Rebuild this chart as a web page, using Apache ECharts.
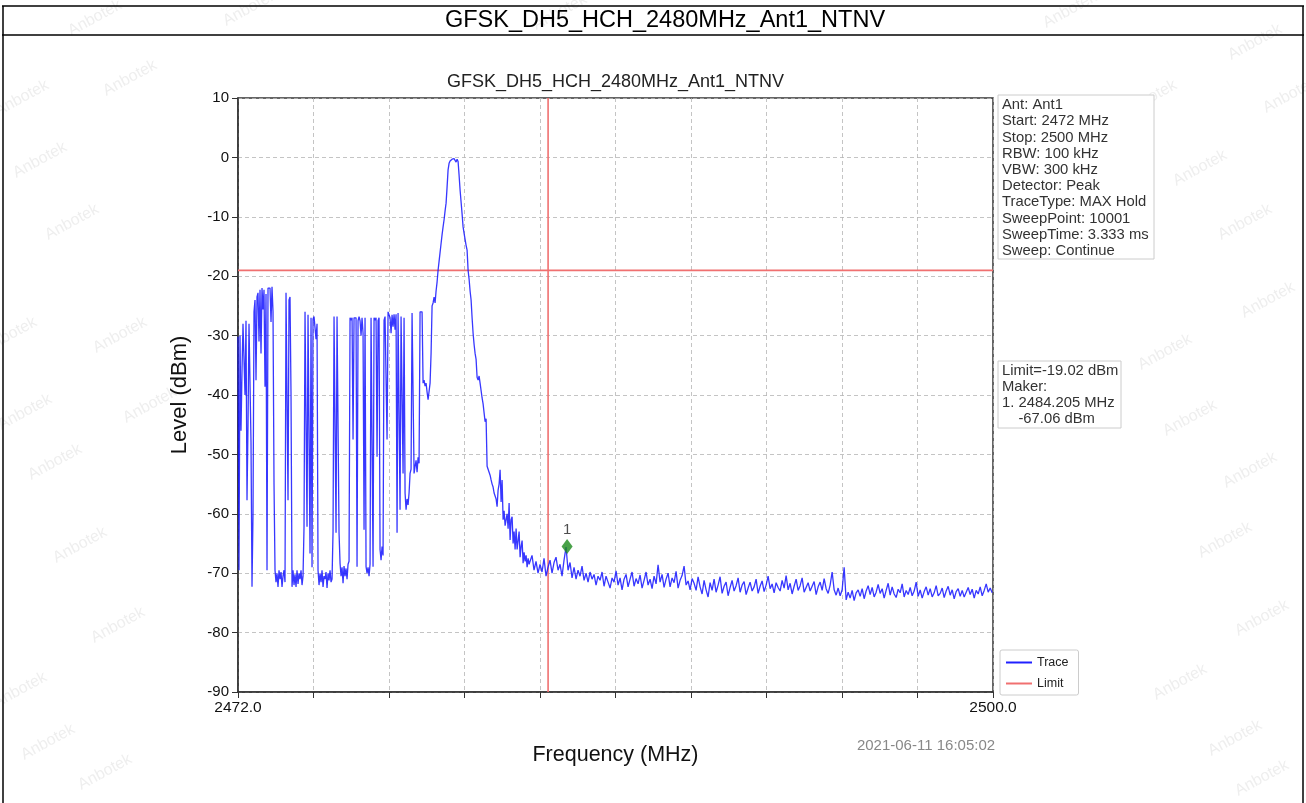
<!DOCTYPE html>
<html><head><meta charset="utf-8">
<script src="https://cdn.jsdelivr.net/npm/echarts@6/dist/echarts.min.js"></script>
<style>html,body{margin:0;padding:0;background:#fff}#c{width:1306px;height:803px}</style>
</head><body><div id="c"></div>
<script>
// ---------------- data ----------------
const pageTitle = 'GFSK_DH5_HCH_2480MHz_Ant1_NTNV';
const chartTitle = 'GFSK_DH5_HCH_2480MHz_Ant1_NTNV';
const freqMinMHz = 2472.0;
const freqMaxMHz = 2500.0;
const freqSpanMHz = 28;
const freqTickStepMHz = 2.8;
const xTickLabels = ['2472.0', '', '', '', '', '', '', '', '', '', '2500.0'];
const levelMin = -90;
const levelMax = 10;
const levelStep = 10;
const limitDbm = -19.02;
const bandEdgeMHz = 2483.5;
const markerFreqMHz = 2484.205;
const markerLevelDbm = -65.5;
const markerLabel = '1';
const infoLines = ['Ant: Ant1', 'Start: 2472 MHz', 'Stop: 2500 MHz', 'RBW: 100 kHz', 'VBW: 300 kHz',
  'Detector: Peak', 'TraceType: MAX Hold', 'SweepPoint: 10001', 'SweepTime: 3.333 ms', 'Sweep: Continue'];
const limitInfoLines = ['Limit=-19.02 dBm', 'Maker:', '1. 2484.205 MHz', '    -67.06 dBm'];
const timestamp = '2021-06-11 16:05:02';

// trace, segment A (fine sweep points, 2472.0 .. 2482.8 MHz)
const segAStartMHz = 2472.0;
const segAStepMHz = 0.0371;
const segALevels = [
  -30.2,-69.5,-30,-46,-36,-28,-27.7,-40,-27.5,-57.7,
  -45,-28,-27.7,-48,-72.3,-60,-26,-24,-37.5,-23.5,
  -22.8,-31,-22.3,-33,-22,-25.6,-22.3,-38.6,-23,-69.5,
  -22,-21.8,-22,-27.7,-21.8,-26,-55,-69.5,-71.5,-70,
  -72.3,-69.5,-71,-69.8,-72.3,-70.5,-69.5,-71.5,-22.8,-23,
  -57.7,-24,-23.5,-40,-72.3,-69.5,-72,-70.2,-72.3,-69.5,
  -71.8,-70,-71,-69.5,-72,-70.5,-62.2,-26,-26.2,-62.2,
  -26.5,-26.8,-66.7,-27,-69,-27.2,-26.8,-27,-30.6,-28,
  -69.5,-72,-70,-71.5,-69.5,-72.3,-70.5,-71,-69.8,-72.5,
  -70,-71.2,-69.5,-71.5,-71,-63,-26.8,-27,-63.2,-26.8,
  -27,-63.2,-68.3,-70.5,-69,-71.7,-68.8,-70.5,-69.2,-71,
  -68.5,-68,-27,-27.4,-27,-47.5,-27,-26.8,-27,-68.9,
  -27.5,-26.8,-27.5,-30,-27,-29.6,-62.7,-27,-68.9,-70,
  -69,-70.5,-68.5,-27,-26.8,-68.9,-27,-27.4,-27,-50.4,
  -27.5,-27,-66,-67.8,-65.5,-67,-27.4,-26.8,-27,-47.5,
  -26,-25.8,-27,-29.6,-26.5,-28.5,-26.4,-29,-26.4,-63.2,
  -26.2,-26.4,-59.3,-26.8,-26.6,-53.2,-27,-56.5,-59.3,-57.5,
  -58.5,-56.5,-53.2,-52.5,-26.2,-26,-53.2,-52,-51,-53,
  -50.5,-51.5,-26,-25.7,-26,-38,-37.5,-38.5,-38,-39.5,
  -40.8,-41,-38,-33,-25,-24.5,-23.5,-24.5,-22.5,-21,
  -19,-17.5,-16,-14.5,-13,-11.7,-10.5,-9,-7.7,-5,
  -2.1,-1,-0.6,-0.4,-0.3,-0.6,-0.2,-0.3,-0.8,-0.3,
  -0.7,-3,-5.5,-7.5,-9.5,-11.7,-12.8,-13.8,-14.8,-15.6,
  -19,-20.5,-22.5,-24,-27,-29.6,-31.5,-33,-34,-37,
  -37.5,-36.8,-38,-37.7,-40.5,-41.5,-43,-44.5,-44,-52,
  -52.3,-53,-53.5,-54.3,-55,-55.5,-56.5,-57,-57.5,-58.8,
  -56,-55,-52.6,-58,-54.3,-61,-59.5,-62,-62.2,-60,
  -62.5,-58.2,-64.4,-61,-60.5,-65,-63,-66,-62.5,-66,
  -64.5,-63,-67.3,-65.5,-64.5,-68.3,-66.5,-68,-67,-69,
  -67.5,-68.5
];
// trace, segment B (2482.83 .. 2500 MHz)
const segBStartMHz = 2482.83;
const segBStepMHz = 0.0742;
const segBLevels = [
  -68.5,-67,-69.5,-68,-70, -68.5,-69.8,-67.5,-70.5,-69,
  -67.8,-70,-68.2,-67.3,-69.5, -68.5,-70.5,-67.8,-65.6,-69.5,
  -68.2,-70.8,-69,-71,-69.5, -70.5,-68.8,-71.2,-70,-71.5,
  -69.8,-71,-70.2,-72,-70.5, -71.2,-69.8,-72.2,-70.5,-71.5,
  -72.5,-70.8,-71.5,-69.6,-72, -70.8,-72.8,-71,-70.2,-72.3,
  -71,-69.8,-72.2,-70.9,-71.8, -70.3,-72.5,-71.2,-69.8,-72,
  -71,-72.6,-70.5,-71.8,-68.6, -71.5,-70.2,-72.4,-71,-70,
  -72.3,-70.8,-71.6,-69.7,-72.5, -71.2,-70.4,-68.8,-72,-71.3,
  -72.8,-70.9,-71.7,-72.9,-70.6, -72.3,-73.5,-71.2,-72.8,-74,
  -71.6,-72.9,-71,-73.2,-72, -70.6,-73.4,-72.2,-71.5,-73.8,
  -72.4,-71.2,-73,-72.1,-70.8, -73.2,-72,-71.4,-73.6,-72.5,
  -71.5,-73,-72.3,-71,-73.4, -72.2,-71.3,-73.1,-72,-70.5,
  -72.6,-71.8,-73.3,-71.6,-72.4, -73,-71.2,-72.5,-70.4,-72.8,
  -71.7,-73.5,-72.2,-71,-72.9, -72.1,-70.8,-73.2,-72.4,-71.6,
  -73,-72.2,-71.4,-73.6,-72.3, -71.5,-72.9,-70.9,-72.6,-73.4,
  -72,-69.8,-72.8,-73.7,-72.5, -73.8,-72.8,-69,-74.5,-73.2,
  -74.2,-72.9,-74.6,-73.3,-72.8, -73.9,-72.6,-74.3,-73,-72.1,
  -73.6,-72.4,-74,-73.2,-71.9, -73.4,-72.6,-74.2,-72.9,-71.7,
  -73.7,-72.3,-73.5,-74.1,-72.7, -73.3,-71.8,-74,-72.9,-73.6,
  -72.4,-73.8,-73,-71.5,-73.9, -72.8,-74.2,-73.1,-72.3,-73.7,
  -72.6,-74,-73.3,-72.1,-73.8, -73.4,-72.5,-74.1,-73,-72.2,
  -73.7,-72.8,-74.3,-73.1,-72.6, -73.9,-72.9,-74,-73.2,-72.4,
  -73.6,-72.7,-74.2,-72.9,-73.5, -72.3,-73.8,-72.9,-71.8,-73.2,
  -72.5,-73.3
];

// ---------------- build ----------------
const trace = segALevels.map((v, i) => [segAStartMHz + i * segAStepMHz, v])
  .concat(segBLevels.map((v, i) => [segBStartMHz + i * segBStepMHz, v]));

const FONT = '"Liberation Sans", Arial, Helvetica, sans-serif';
const chart = echarts.init(document.getElementById('c'), null, {renderer: 'canvas'});

const watermarkPos = [[95,18],[250,8],[560,12],[1070,10],[1255,42],[22,98],[130,78],[40,160],[72,222],
  [1150,98],[1200,168],[1245,222],[1268,300],[1165,352],[10,335],[120,335],[25,412],[150,405],[55,462],
  [1190,418],[1250,470],[1225,540],[80,545],[118,625],[1262,618],[1180,682],[20,690],[48,742],[105,772],
  [1235,738],[1262,778],[1290,95]];
const graphics = [];
watermarkPos.forEach(p => graphics.push({type: 'text', x: p[0], y: p[1], rotation: 0.5, z: 0, silent: true,
  style: {text: 'Anbotek', fill: 'rgba(150,150,150,0.16)', font: '16px ' + FONT, textAlign: 'center', textVerticalAlign: 'middle'}}));
// outer table frame
graphics.push({type: 'line', shape: {x1: 2, y1: 6, x2: 1304, y2: 6}, style: {stroke: '#000', lineWidth: 1.5}});
graphics.push({type: 'line', shape: {x1: 2, y1: 35, x2: 1304, y2: 35}, style: {stroke: '#000', lineWidth: 1.5}});
graphics.push({type: 'line', shape: {x1: 3, y1: 6, x2: 3, y2: 803}, style: {stroke: '#000', lineWidth: 1.5}});
graphics.push({type: 'line', shape: {x1: 1303, y1: 6, x2: 1303, y2: 803}, style: {stroke: '#000', lineWidth: 1.5}});
graphics.push({type: 'text', x: 665, y: 21, style: {text: pageTitle, fill: '#000', font: '23.5px ' + FONT, textAlign: 'center', textVerticalAlign: 'middle'}});
graphics.push({type: 'text', x: 615.5, y: 82, style: {text: chartTitle, fill: '#222', font: '18px ' + FONT, textAlign: 'center', textVerticalAlign: 'middle'}});
// info box
graphics.push({type: 'rect', shape: {x: 998, y: 95, width: 156, height: 164}, style: {fill: '#fff', stroke: '#ccc', lineWidth: 1}, z: 5});
graphics.push({type: 'text', x: 1002, y: 97, z: 6, style: {text: infoLines.join('\n'), fill: '#333', font: '14.8px ' + FONT, lineHeight: 16.2, textVerticalAlign: 'top'}});
graphics.push({type: 'rect', shape: {x: 998, y: 361, width: 123, height: 67}, style: {fill: '#fff', stroke: '#ccc', lineWidth: 1}, z: 5});
graphics.push({type: 'text', x: 1002, y: 363, z: 6, style: {text: limitInfoLines.join('\n'), fill: '#333', font: '14.8px ' + FONT, lineHeight: 16, textVerticalAlign: 'top'}});
graphics.push({type: 'text', x: 926, y: 746, style: {text: timestamp, fill: '#888', font: '15px ' + FONT, textAlign: 'center', textVerticalAlign: 'middle'}});

const option = {
  animation: false,
  backgroundColor: '#fff',
  textStyle: {fontFamily: FONT},
  grid: {left: 238, right: 313, top: 98, bottom: 111, show: true, borderColor: '#333', borderWidth: 1.5, backgroundColor: 'transparent'},
  legend: {
    orient: 'vertical', left: 1000, top: 650, itemWidth: 26, itemHeight: 2, itemGap: 8,
    padding: [6, 10, 5, 6], borderColor: '#ccc', borderWidth: 1, borderRadius: 2, backgroundColor: '#fff',
    textStyle: {fontSize: 12.5, color: '#222'},
    data: [{name: 'Trace', icon: 'rect'}, {name: 'Limit', icon: 'rect'}]
  },
  xAxis: [
    {type: 'value', min: freqMinMHz, max: freqMaxMHz, position: 'top', show: false},
    {type: 'value', min: 0, max: freqSpanMHz, interval: freqTickStepMHz, position: 'bottom',
      name: 'Frequency (MHz)', nameLocation: 'middle', nameGap: 52,
      nameTextStyle: {fontSize: 21.5, color: '#111'},
      axisLine: {show: true, lineStyle: {color: '#333', width: 1.5}},
      axisTick: {show: true, length: 6, lineStyle: {color: '#333'}},
      axisLabel: {show: true, margin: 8, fontSize: 15.5, color: '#111', showMinLabel: true, showMaxLabel: true,
        formatter: (v, i) => xTickLabels[i] || ''},
      splitLine: {show: true, lineStyle: {color: '#b5b5b5', type: [4, 3], width: 0.8}}}
  ],
  yAxis: {
    type: 'value', min: levelMin, max: levelMax, interval: levelStep,
    name: 'Level (dBm)', nameLocation: 'middle', nameGap: 47,
    nameTextStyle: {fontSize: 22, color: '#111'},
    axisLine: {show: true, lineStyle: {color: '#333', width: 1.5}},
    axisTick: {show: true, length: 6, lineStyle: {color: '#333'}},
    axisLabel: {fontSize: 15, color: '#111', margin: 9},
    splitLine: {show: true, lineStyle: {color: '#b5b5b5', type: [4, 3], width: 0.8}}
  },
  series: [
    {type: 'line', name: 'Limit', xAxisIndex: 0, data: [[freqMinMHz, limitDbm], [freqMaxMHz, limitDbm]],
      showSymbol: false, color: '#f07070', lineStyle: {width: 1.6, color: '#f07070'}, z: 2, silent: true},
    {type: 'line', name: 'Limit', xAxisIndex: 0, data: [[bandEdgeMHz, levelMin], [bandEdgeMHz, levelMax]],
      showSymbol: false, color: '#f07070', lineStyle: {width: 1.6, color: '#f07070'}, z: 2, silent: true},
    {type: 'line', name: 'Trace', xAxisIndex: 0, data: trace, showSymbol: false, sampling: null,
      color: '#2020ff', lineStyle: {width: 1.3, color: 'rgba(20,20,255,0.85)'}, z: 3, silent: true},
    {type: 'scatter', name: 'Marker', xAxisIndex: 0, data: [[markerFreqMHz, markerLevelDbm]],
      symbol: 'diamond', symbolSize: [11, 15], itemStyle: {color: '#1b8a1b'}, z: 4,
      label: {show: true, position: 'top', distance: 2, formatter: markerLabel, fontSize: 15, color: '#222'}}
  ],
  graphic: graphics
};
chart.setOption(option);
</script>
</body></html>
